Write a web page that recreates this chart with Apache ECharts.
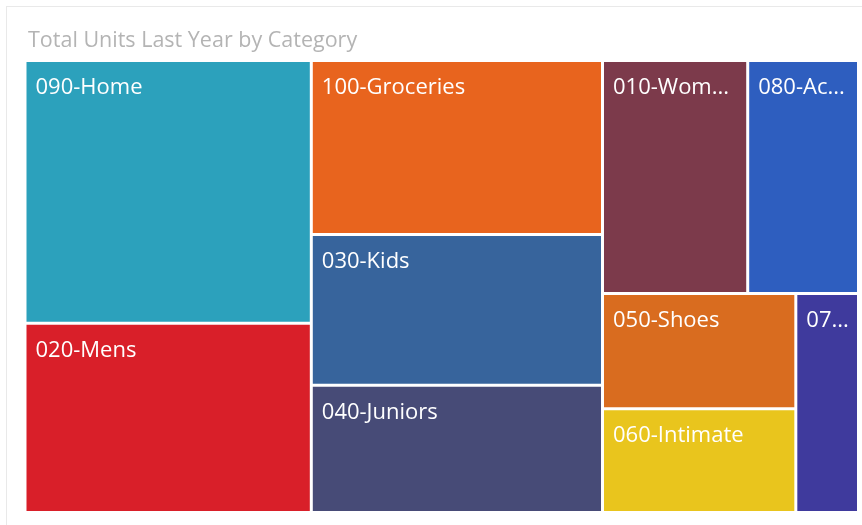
<!DOCTYPE html>
<html>
<head>
<meta charset="utf-8">
<title>Total Units Last Year by Category</title>
<script src="https://cdn.jsdelivr.net/npm/echarts@6/dist/echarts.min.js"></script>
<style>
  html, body { margin: 0; padding: 0; background: #ffffff; }
  #card {
    position: absolute; left: 6px; top: 6px; width: 900px; height: 560px;
    border: 1px solid #e9e9e9; box-sizing: border-box;
  }
  #chart { position: absolute; left: 0; top: 0; width: 862px; height: 525px; }
</style>
</head>
<body>
<div id="card"></div>
<div id="chart"></div>
<script>
// Category names and last year's total units
var categories = [
  '090-Home', '020-Mens', '100-Groceries', '030-Kids', '040-Juniors',
  '010-Womens', '080-Accessories', '050-Shoes', '060-Intimate', '070-Hosiery'
];
var unitsLastYear = [75150, 54110, 50580, 43910, 36980, 33800, 25790, 22230, 20050, 13710];

// One fill colour per category
var palette = [
  '#2ca1bc', '#d91f29', '#e8641e', '#37649c', '#474b77',
  '#7c3a4b', '#2e5ebf', '#d96c1f', '#e9c51d', '#3f3a9d'
];

var chart = echarts.init(document.getElementById('chart'), null, { renderer: 'canvas' });

var seriesData = categories.map(function (name, i) {
  return { name: name, value: unitsLastYear[i], itemStyle: { color: palette[i] } };
});

chart.setOption({
  animation: false,
  title: {
    text: 'Total Units Last Year by Category',
    left: 28,
    top: 30,
    padding: 0,
    textStyle: {
      fontFamily: 'Open Sans',
      fontSize: 21.5,
      fontWeight: 'normal',
      color: '#b4b4b4'
    }
  },
  series: [{
    type: 'treemap',
    left: 26.5,
    top: 62,
    width: 830.5,
    height: 449,
    roam: false,
    nodeClick: false,
    breadcrumb: { show: false },
    sort: 'desc',
    levels: [{
      itemStyle: { borderWidth: 0, gapWidth: 3, borderColor: '#ffffff' }
    }],
    itemStyle: { borderWidth: 0 },
    label: {
      show: true,
      position: [0, 0],
      // the right padding keeps a margin before the ellipsis on narrow tiles
      padding: [14, 6, 0, 9],
      color: '#ffffff',
      fontFamily: 'Open Sans',
      fontSize: 22,
      lineHeight: 24,
      overflow: 'truncate',
      ellipsis: '...',
      formatter: '{b}'
    },
    emphasis: { disabled: true },
    data: seriesData
  }]
});
</script>
</body>
</html>
